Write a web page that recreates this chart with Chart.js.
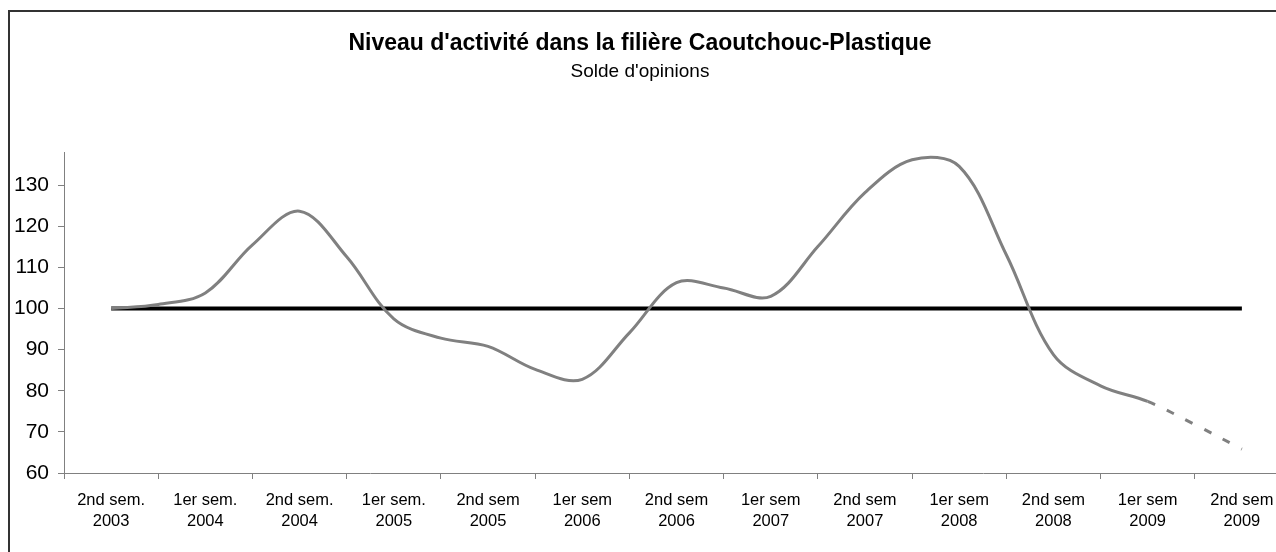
<!DOCTYPE html>
<html>
<head>
    <meta charset="UTF-8">
    <title>Niveau d'activité - Caoutchouc-Plastique</title>
    <script src="https://cdn.jsdelivr.net/npm/chart.js@4/dist/chart.umd.min.js"></script>
    <style>
        body { margin: 0; overflow: hidden; background: #fff; }
        #cadre {
            position: absolute; left: 8px; top: 10px; width: 1300px; height: 600px;
            border-left: 2px solid #333; border-top: 2px solid #333;
            pointer-events: none;
        }
        #graph { position: absolute; left: -10px; top: 0; }
    </style>
</head>
<body>
    <canvas id="graph" width="1310" height="552"></canvas>
    <div id="cadre"></div>

    <script>
        // libellés des semestres (axe x)
        var semestres = [
            ['2nd sem.', '2003'], ['1er sem.', '2004'], ['2nd sem.', '2004'], ['1er sem.', '2005'],
            ['2nd sem', '2005'], ['1er sem', '2006'], ['2nd sem', '2006'], ['1er sem', '2007'],
            ['2nd sem', '2007'], ['1er sem', '2008'], ['2nd sem', '2008'], ['1er sem', '2009'],
            ['2nd sem', '2009']
        ];

        // solde d'opinions, un point par trimestre (2 par semestre)
        var activite = [
            100, 101, 103.8, 115.5, 123.7, 112.6, 97.5, 92.8, 90.8, 85.2,
            82.8, 94.1, 106.3, 105.0, 103.0, 115.1, 128.2, 136.2, 134.6, 113.1,
            88.8, 81.2, 77.4, 71.8, 65.8
        ];

        // a partir de ce point : prévision (pointillés)
        var debutPrevision = 22;

        // ligne de référence
        var reference = [100, 100, 100, 100, 100, 100, 100, 100, 100, 100, 100, 100, 100];

        var yTicks = [60, 70, 80, 90, 100, 110, 120, 130];

        var police = "'Liberation Sans', Arial, sans-serif";

        var pointsActivite = activite.map(function (v, i) { return { x: i / 2, y: v }; });
        var pointsReference = reference.map(function (v, i) { return { x: i, y: v }; });

        // recentre titre et sous-titre sur la zone visible
        var recentrage = {
            id: 'recentrage',
            afterLayout: function (chart) {
                chart.boxes.forEach(function (b) {
                    if (b.options && b.options.text !== undefined) {
                        b.left = 10;
                        b.right = 1290;
                    }
                });
            }
        };

        var config = {
            type: 'line',
            data: {
                datasets: [{
                    label: 'Niveau d\'activité',
                    data: pointsActivite,
                    borderColor: '#808080',
                    borderWidth: 3,
                    pointRadius: 0,
                    tension: 0.35,
                    fill: false,
                    segment: {
                        borderDash: function (ctx) {
                            return ctx.p0DataIndex >= debutPrevision ? [8, 13] : undefined;
                        }
                    }
                }, {
                    label: 'Référence',
                    data: pointsReference,
                    borderColor: '#000000',
                    borderWidth: 4,
                    pointRadius: 0,
                    tension: 0,
                    fill: false
                }]
            },
            options: {
                responsive: false,
                animation: false,
                events: [],
                layout: { padding: { left: 0, right: 1, top: 0, bottom: 0 } },
                plugins: {
                    legend: { display: false },
                    tooltip: { enabled: false },
                    title: {
                        display: true,
                        text: 'Niveau d\'activité dans la filière Caoutchouc-Plastique',
                        color: '#000',
                        font: { family: police, size: 23, weight: 'bold', lineHeight: 1.2 },
                        padding: { top: 30, bottom: 3 }
                    },
                    subtitle: {
                        display: true,
                        text: 'Solde d\'opinions',
                        color: '#000',
                        font: { family: police, size: 19, weight: 'normal', lineHeight: 1.2 },
                        padding: { top: 0, bottom: 69 }
                    }
                },
                scales: {
                    x: {
                        type: 'linear',
                        min: -0.5,
                        max: 12.5,
                        afterBuildTicks: function (scale) {
                            var t = [];
                            for (var k = -1; k <= 25; k++) t.push({ value: k / 2 });
                            scale.ticks = t;
                        },
                        afterFit: function (scale) { scale.height = 79; },
                        border: { display: true, color: '#808080', width: 1 },
                        grid: {
                            drawOnChartArea: false,
                            drawTicks: true,
                            tickLength: 6,
                            tickColor: function (ctx) {
                                return ctx.tick && Number.isInteger(ctx.tick.value) ? 'rgba(0,0,0,0)' : '#808080';
                            }
                        },
                        ticks: {
                            autoSkip: false,
                            maxRotation: 0,
                            minRotation: 0,
                            padding: 11,
                            color: '#000',
                            font: { family: police, size: 16.5, lineHeight: 1.27 },
                            callback: function (value) {
                                return Number.isInteger(value) ? semestres[value] : '';
                            }
                        }
                    },
                    y: {
                        min: 60,
                        max: 138,
                        afterBuildTicks: function (scale) {
                            scale.ticks = yTicks.map(function (v) { return { value: v }; });
                        },
                        afterFit: function (scale) { scale.width = 74; },
                        border: { display: true, color: '#808080', width: 1 },
                        grid: {
                            drawOnChartArea: false,
                            drawTicks: true,
                            tickLength: 6,
                            tickColor: '#808080'
                        },
                        ticks: {
                            padding: 9,
                            color: '#000',
                            font: { family: police, size: 21 }
                        }
                    }
                }
            },
            plugins: [recentrage]
        };

        window.onload = function () {
            var ctx = document.getElementById('graph').getContext('2d');
            window.graphique = new Chart(ctx, config);
        };
    </script>
</body>
</html>
